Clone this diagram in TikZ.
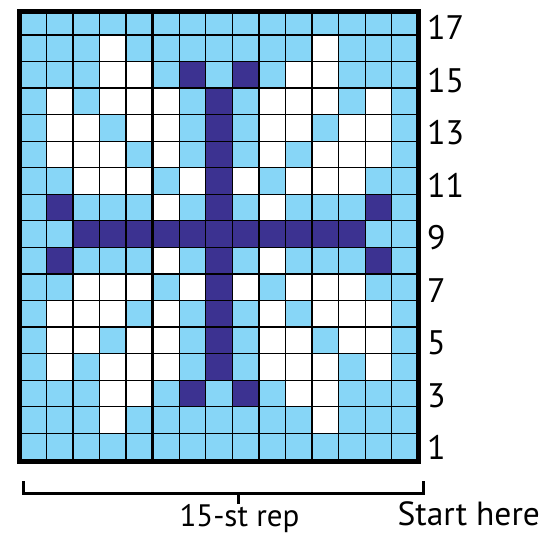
\documentclass[tikz,border=0pt]{standalone}
\usepackage{fontspec}
\setmainfont{PT Sans}
\usepackage{xstring}
\definecolor{cL}{RGB}{135,214,247}
\definecolor{cW}{RGB}{255,255,255}
\definecolor{cD}{RGB}{60,50,145}
\tikzset{
  gridline/.style={line width=1.3pt, draw=black},
  repsep/.style={line width=3.3pt, draw=black},
  frameline/.style={line width=5pt, draw=black},
  repline/.style={line width=3pt, draw=black},
  rownum/.style={anchor=base west, inner sep=0pt, font=\fontsize{34}{34}\selectfont},
  bottomtext/.style={anchor=base west, inner sep=0pt, font=\fontsize{31}{31}\selectfont},
  starttext/.style={anchor=base west, inner sep=0pt, font=\fontsize{33.5}{33.5}\selectfont}
}
\begin{document}
\begin{tikzpicture}[x=1pt,y=-1pt]
\useasboundingbox (0,0) rectangle (548,537);
\def\xo{19.8}\def\yo{8.45}\def\sx{26.57}\def\sy{26.55}
\begin{scope}
\clip (19.8,11.5) rectangle (418.3,461.5);
\foreach \r/\p in {17/LLLLLLLLLLLLLLL,16/LLLWLLLLLLLWLLL,15/LLLWWLDLDLWWLLL,
  14/LWLWWWLDLWWWLWL,13/LWWLWWLDLWWLWWL,12/LWWWLWLDLWLWWWL,11/LLWWWLWDWLWWWLL,
  10/LDLLLWLDLWLLLDL,9/LLDDDDDDDDDDDLL,8/LDLLLWLDLWLLLDL,7/LLWWWLWDWLWWWLL,
  6/LWWWLWLDLWLWWWL,5/LWWLWWLDLWWLWWL,4/LWLWWWLDLWWWLWL,3/LLLWWLDLDLWWLLL,
  2/LLLWLLLLLLLWLLL,1/LLLLLLLLLLLLLLL}{
  \foreach \c in {1,...,15}{
    \StrChar{\p}{\c}[\ch]
    \edef\mycol{c\ch}
    \fill[fill=\mycol] ({\xo+(\c-1)*\sx},{\yo+(17-\r)*\sy}) rectangle ++(\sx,\sy);
  }
}
\foreach \k in {1,...,14}
  \draw[gridline] ({\xo+\k*\sx},\yo) -- ({\xo+\k*\sx},{\yo+17*\sy});
\foreach \k in {1,...,16}
  \draw[gridline] (\xo,{\yo+\k*\sy}) -- ({\xo+15*\sx},{\yo+\k*\sy});
\draw[repsep] ({\xo+5*\sx},\yo) -- ({\xo+5*\sx},{\yo+17*\sy});
\end{scope}
\draw[frameline] (19.8,11.5) rectangle (418.3,461.5);
\foreach \r in {1,3,...,17}
  \node[rownum] (n\r) at (427,{40+(17-\r)*26.22}) {\r};
\coordinate (bl) at (23,481);
\coordinate (bll) at (23,493.5);
\coordinate (brr) at (423,493.5);
\coordinate (br) at (423,481);
\coordinate (mt) at (238,493.5);
\coordinate (mb) at (238,503.5);
\draw[repline] (bl) -- (bll) -- (brr) -- (br);
\draw[repline] (mt) -- (mb);
\node[bottomtext] (rep) at (179.3,526) {15-st rep};
\node[starttext] (start) at (397.5,525) {Start here};
\end{tikzpicture}
\end{document}
